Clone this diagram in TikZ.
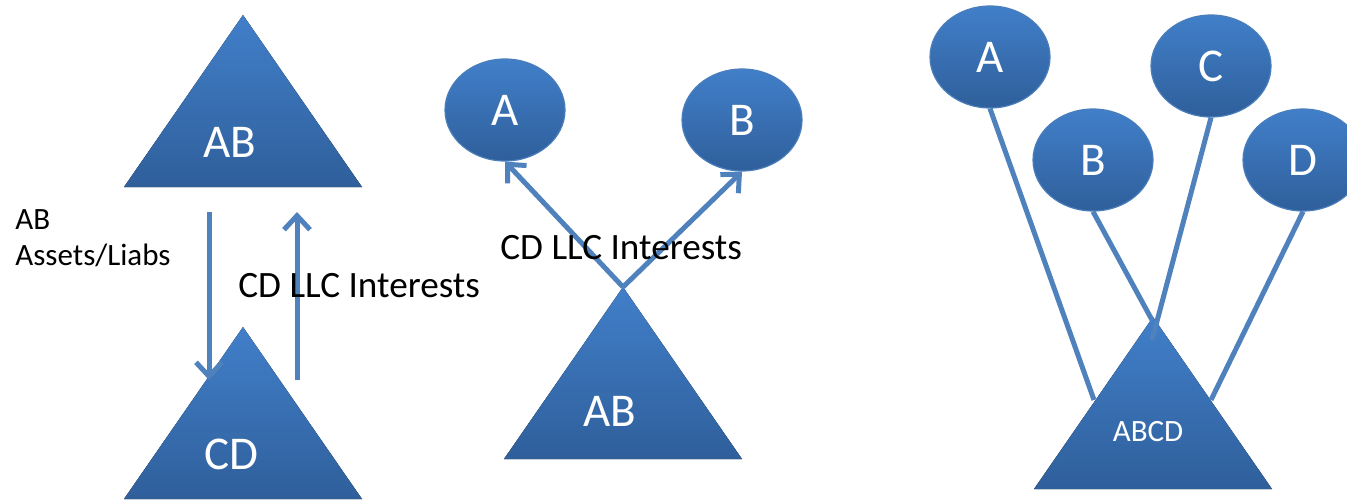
\documentclass[tikz,border=0pt]{standalone}
\usepackage{fontspec}
\setmainfont{Carlito}
\usetikzlibrary{arrows.meta,shapes.geometric}
\definecolor{blueTop}{RGB}{65,127,201}
\definecolor{blueBot}{RGB}{47,95,155}
\definecolor{blueEdge}{RGB}{74,126,187}
\definecolor{blueLine}{RGB}{79,129,189}
\begin{document}
\begin{tikzpicture}[x=0.5pt,y=-0.5pt,
	tri/.style={top color=blueTop,bottom color=blueBot,draw=none},
	owner/.style={ellipse,top color=blueTop,bottom color=blueBot,draw=blueEdge,line width=0.6pt,
		minimum width=60pt,minimum height=51pt,inner sep=0pt,text=white,font=\fontsize{23.5}{28}\selectfont},
	trilabel/.style={text=white,inner sep=0pt,font=\fontsize{23.5}{28}\selectfont},
	link/.style={draw=blueLine,line width=2.5pt},
	flow/.style={link,-{Straight Barb[length=7pt,width=13pt]}},
	note/.style={inner sep=0pt,font=\fontsize{18.6}{22}\selectfont}]
	\useasboundingbox (0,0) rectangle (1347,503);

	% triangles: apex, then base 238 wide and 172 down
	\foreach \n/\x/\y in {abL/243/15, cdL/243/327, abM/623/287, abcd/1153/317}
		\fill[tri] (\x,\y) coordinate (\n) -- ++(119,172) -- ++(-238,0) -- cycle;

	% left: exchange between AB and CD
	\coordinate (dnTop) at (209,212);
	\coordinate (dnEnd) at (209,380);
	\coordinate (upEnd) at (297,212);
	\coordinate (upBot) at (297,380);
	\draw[flow] (dnTop) -- (dnEnd);
	\draw[flow] (upBot) -- (upEnd);
	\node[trilabel] (abLtxt) at (230,142) {AB};
	\node[trilabel] (cdLtxt) at (231,454) {CD};
	\node[inner sep=0pt,anchor=north west,align=left,font=\fontsize{15.5}{18}\selectfont] (assets) at (15,209) {AB\\Assets/Liabs};
	\node[note,anchor=base west] (llcL) at (238,297) {CD LLC Interests};

	% middle: AB hands out interests to A and B
	\node[owner] (mA) at (505,110) {A};
	\node[owner] (mB) at (742,120) {B};
	\draw[flow] (abM) -- (mA.south);
	\draw[flow] (abM) -- (mB.south);
	\node[trilabel] (abMtxt) at (610,411) {AB};
	\node[note,anchor=base west] (llcM) at (500,259) {CD LLC Interests};

	% right: ABCD held by A, B, C, D
	\node[owner] (rA) at (990,57) {A};
	\node[owner] (rB) at (1093,160) {B};
	\node[owner] (rC) at (1211,66) {C};
	\node[owner] (rD) at (1303,160) {D};
	\coordinate (abcdL) at (1094,400);
	\coordinate (abcdB) at (1152,320);
	\coordinate (abcdC) at (1152,340);
	\coordinate (abcdR) at (1211,400);
	\draw[link] (rA.south) -- (abcdL);
	\draw[link] (rB.south) -- (abcdB);
	\draw[link] (rC.south) -- (abcdC);
	\draw[link] (rD.south) -- (abcdR);
	\node[trilabel,font=\fontsize{15.5}{18}\selectfont] (abcdtxt) at (1148,432) {ABCD};
\end{tikzpicture}
\end{document}
